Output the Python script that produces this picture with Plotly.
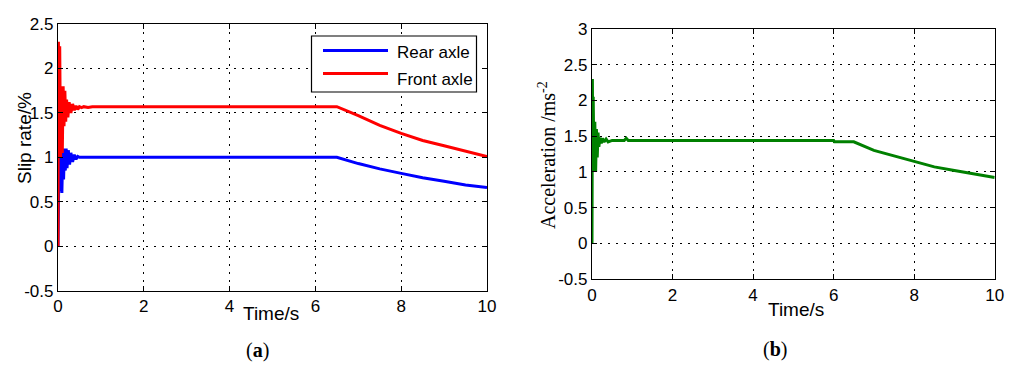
import plotly.graph_objects as go

# ---------------- data ----------------
rear_t = [0.0, 0.02, 0.03, 0.05, 0.07, 0.09, 0.11, 0.13, 0.15, 0.17, 0.19, 0.21, 0.24, 0.27,
          0.30, 0.34, 0.38, 0.42, 0.46, 0.5, 6.5, 7.0, 7.5, 8.0, 8.5, 9.0, 9.5, 10.0]
rear_v = [0.0, 0.6, 1.3, 0.62, 1.0, 0.6, 1.05, 0.75, 1.1, 0.85, 1.1, 0.88, 1.08, 0.92,
          1.05, 0.95, 1.03, 0.98, 1.01, 1.0, 1.0, 0.93, 0.87, 0.82, 0.77, 0.73, 0.69, 0.66]

front_t = [0.0, 0.01, 0.02, 0.04, 0.06, 0.08, 0.10, 0.12, 0.14, 0.16, 0.18, 0.20, 0.23, 0.26,
           0.30, 0.34, 0.38, 0.42, 0.46, 0.5, 0.55, 0.6, 0.7, 0.8, 1.0,
           6.5, 7.0, 7.5, 8.0, 8.5, 9.0, 9.5, 10.0]
front_v = [0.0, 2.3, 1.2, 2.25, 1.0, 1.8, 1.05, 1.8, 1.35, 1.75, 1.4, 1.65, 1.45, 1.62,
           1.5, 1.6, 1.53, 1.58, 1.54, 1.57, 1.56, 1.57, 1.56, 1.57, 1.57,
           1.57, 1.47, 1.36, 1.27, 1.19, 1.13, 1.07, 1.01]

accel_t = [0.0, 0.01, 0.02, 0.03, 0.05, 0.07, 0.09, 0.11, 0.13, 0.15, 0.17, 0.2, 0.23, 0.26,
           0.3, 0.35, 0.4, 0.5, 0.6, 0.8, 0.85, 0.9, 1.2, 6.0, 6.02, 6.5,
           7.0, 7.5, 8.0, 8.5, 9.0, 9.5, 10.0]
accel_v = [0.0, 2.3, 1.0, 2.05, 1.0, 1.7, 1.0, 1.6, 1.2, 1.55, 1.35, 1.48, 1.4, 1.47,
           1.42, 1.46, 1.42, 1.44, 1.44, 1.44, 1.47, 1.44, 1.44, 1.44, 1.42, 1.42,
           1.3, 1.22, 1.14, 1.07, 1.02, 0.97, 0.92]

series_names = ["Rear axle", "Front axle"]
series_colors = ["#0000FF", "#FF0000"]

x_ticks = [0, 2, 4, 6, 8, 10]
y_ticks_a = [-0.5, 0, 0.5, 1, 1.5, 2, 2.5]
y_ticks_b = [-0.5, 0, 0.5, 1, 1.5, 2, 2.5, 3]

# ---------------- figure ----------------
fig = go.Figure()
fig.add_trace(go.Scatter(x=rear_t, y=rear_v, mode="lines", name=series_names[0],
                         line=dict(color=series_colors[0], width=3), xaxis="x", yaxis="y",
                         showlegend=False))
fig.add_trace(go.Scatter(x=front_t, y=front_v, mode="lines", name=series_names[1],
                         line=dict(color=series_colors[1], width=3), xaxis="x", yaxis="y",
                         showlegend=False))
fig.add_trace(go.Scatter(x=accel_t, y=accel_v, mode="lines", name="Acceleration",
                         line=dict(color="#008000", width=3), xaxis="x2", yaxis="y2",
                         showlegend=False))

# page body has an 8px margin: size the figure so it fits the 1024x366 window
OFF = 8
W, H = 1024 - OFF, 366 - OFF
def px(x):
    return (x - OFF) / W
def py(y):
    return 1 - (y - OFF) / H

SANS = "Liberation Sans, Arial, sans-serif"
SERIF = "Liberation Serif, Times New Roman, serif"
tickfont = dict(family=SANS, size=17, color="black")
axis_common = dict(showline=True, linecolor="black", linewidth=1.2, mirror="ticks",
                   ticks="inside", ticklen=5, tickcolor="black", tickwidth=1,
                   showgrid=True, gridcolor="black", griddash="2px,6px", gridwidth=1.2,
                   zeroline=False, tickfont=tickfont, automargin=False)

fig.update_layout(
    width=W, height=H, margin=dict(l=0, r=0, t=0, b=0),
    paper_bgcolor="white", plot_bgcolor="white",
    xaxis=dict(domain=[px(58), px(487)], range=[0, 10], tickvals=x_ticks,
               ticktext=[str(v) for v in x_ticks], anchor="y", **axis_common),
    yaxis=dict(domain=[py(290.7), py(24)], range=[-0.5, 2.5], tickvals=y_ticks_a,
               ticktext=[("%g" % v) for v in y_ticks_a], anchor="x", **axis_common),
    xaxis2=dict(domain=[px(592), px(994.7)], range=[0, 10], tickvals=x_ticks,
                ticktext=[str(v) for v in x_ticks], anchor="y2", **axis_common),
    yaxis2=dict(domain=[py(279), py(29)], range=[-0.5, 3], tickvals=y_ticks_b,
                ticktext=[("%g" % v) for v in y_ticks_b], anchor="x2", **axis_common),
)

def note(text, x, y, size, family, angle=0, xanchor="center"):
    return dict(text=text, x=px(x), y=py(y), xref="paper", yref="paper", showarrow=False,
                xanchor=xanchor, yanchor="middle", textangle=angle,
                font=dict(family=family, size=size, color="black"))

annotations = [
    note("Slip rate/%", 24, 138, 19, SANS, angle=-90),
    note("Acceleration /ms<sup>-2</sup>", 547, 155, 20, SERIF, angle=-90),
    note("Time/s", 271, 313, 19, SANS),
    note("Time/s", 796, 309, 19, SANS),
    note("(<b>a</b>)", 257, 350, 20, SERIF),
    note("(<b>b</b>)", 775, 349, 20, SERIF),
]

# manual MATLAB-style legend
shapes = [dict(type="rect", xref="paper", yref="paper", x0=px(311.5), x1=px(476.5),
               y0=py(92), y1=py(36), line=dict(color="black", width=1.2), fillcolor="white",
               layer="above")]
leg_line_y = [50.5, 73.5]
leg_text_y = [52.5, 79]
for name, col, ly, ty in zip(series_names, series_colors, leg_line_y, leg_text_y):
    shapes.append(dict(type="line", xref="paper", yref="paper", x0=px(323), x1=px(388),
                       y0=py(ly), y1=py(ly), line=dict(color=col, width=3), layer="above"))
    annotations.append(note(name, 395, ty, 17, SANS, xanchor="left"))

fig.update_layout(annotations=annotations, shapes=shapes)
fig.write_html("out.html")
